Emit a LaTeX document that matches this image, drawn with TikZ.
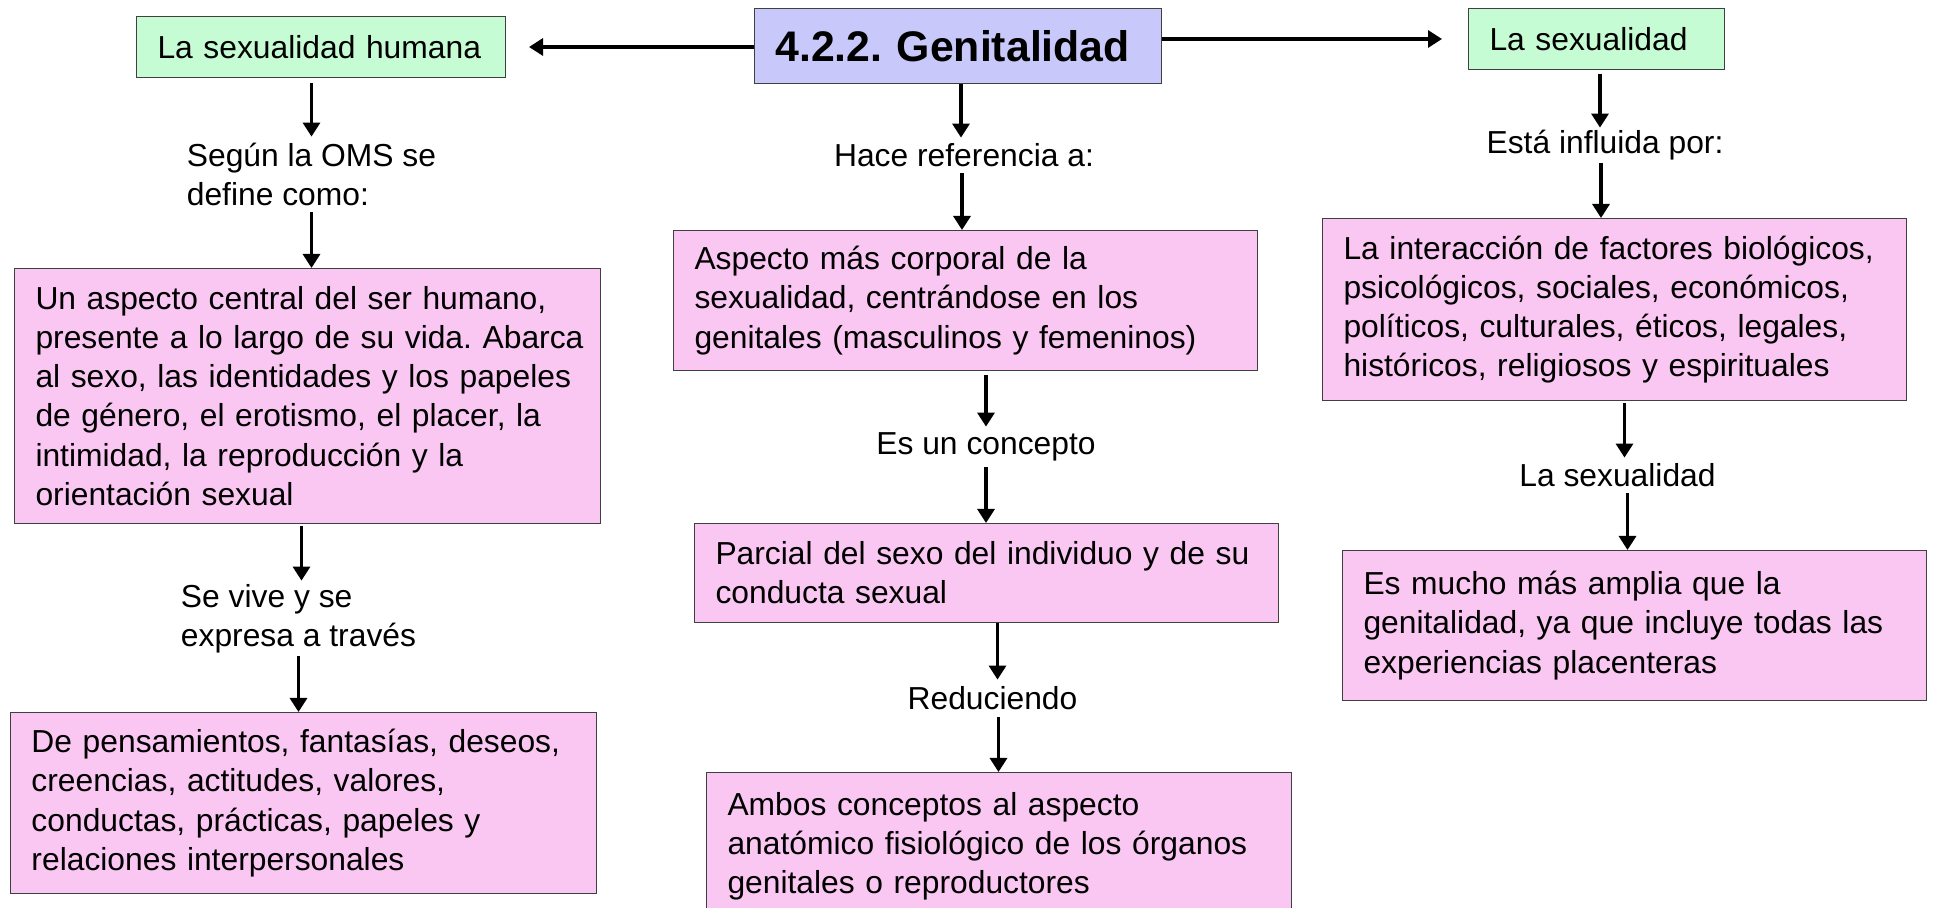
\documentclass[tikz,border=0pt]{standalone}
\usepackage{fontspec}
\setmainfont{Liberation Sans}
\usetikzlibrary{arrows.meta,calc}
\definecolor{mint}{RGB}{198,252,212}
\definecolor{pinkf}{RGB}{250,198,242}
\definecolor{lav}{RGB}{200,200,250}
\definecolor{edgec}{RGB}{64,64,64}
\frenchspacing
\begin{document}
\begin{tikzpicture}[x=0.5pt,y=-0.5pt,
  box/.style={draw=edgec, line width=0.5pt, anchor=north west, inner xsep=10.5pt, inner ysep=0pt,
    align=left, font=\fontsize{15.9pt}{19.6pt}\selectfont},
  greenbox/.style={box, fill=mint},
  pinkbox/.style={box, fill=pinkf},
  titlebox/.style={box, fill=lav, font=\fontsize{21.4pt}{25pt}\selectfont\bfseries},
  lbl/.style={inner sep=0pt, align=left, font=\fontsize{15.9pt}{19.6pt}\selectfont},
  arr/.style={line width=1.6pt, -{Triangle[length=7pt,width=8.5pt]}}
]
\fill[white] (0,0) rectangle (1935,908);
\useasboundingbox (0,0) rectangle (1935,908);

% top row
\node[greenbox, minimum width=184.5pt, minimum height=30.5pt, text width=163.5pt] (A) at (136,16) {\mbox{La sexualidad humana}};
\node[titlebox, minimum width=203.5pt, minimum height=37.5pt, text width=182.5pt] (C) at (754,8) {\mbox{4.2.2. Genitalidad}};
\node[greenbox, minimum width=128pt, minimum height=30.5pt, text width=107pt] (R) at (1468,8) {\mbox{La sexualidad}};

% left column
\node[lbl, minimum height=37.5pt] (L1) at (311.5,174.5) {Según la OMS se\\define como:};
\node[pinkbox, minimum width=293pt, minimum height=127.5pt, text width=272pt] (b1) at (14,268)
  {\mbox{Un aspecto central del ser humano,}\\\mbox{presente a lo largo de su vida. Abarca}\\\mbox{al sexo, las identidades y los papeles}\\\mbox{de género, el erotismo, el placer, la}\\\mbox{intimidad, la reproducción y la}\\\mbox{orientación sexual}};
\node[lbl, minimum height=37.5pt] (L2) at (298.5,618.5) {Se vive y se\\expresa a través};
\node[pinkbox, minimum width=293pt, minimum height=90.5pt, text width=272pt] (b6) at (10,712)
  {\mbox{De pensamientos, fantasías, deseos,}\\\mbox{creencias, actitudes, valores,}\\\mbox{conductas, prácticas, papeles y}\\\mbox{relaciones interpersonales}};

% middle column
\node[lbl, minimum height=17.5pt] (H) at (964,155.5) {Hace referencia a:};
\node[pinkbox, minimum width=292pt, minimum height=70pt, text width=271pt] (b2) at (673,230)
  {\mbox{Aspecto más corporal de la}\\\mbox{sexualidad, centrándose en los}\\\mbox{genitales (masculinos y femeninos)}};
\node[lbl, minimum height=20pt] (E) at (986,447) {Es un concepto};
\node[pinkbox, minimum width=292pt, minimum height=49.5pt, text width=271pt] (b3) at (694,523)
  {\mbox{Parcial del sexo del individuo y de su}\\\mbox{conducta sexual}};
\node[lbl, minimum height=18.5pt] (Red) at (992.5,698.5) {Reduciendo};
\node[pinkbox, minimum width=292.5pt, minimum height=74pt, text width=271.5pt] (b4) at (706,772)
  {\mbox{Ambos conceptos al aspecto}\\\mbox{anatómico fisiológico de los órganos}\\\mbox{genitales o reproductores}};

% right column
\node[lbl, minimum height=17.5pt] (F) at (1605,145.5) {Está influida por:};
\node[pinkbox, minimum width=292pt, minimum height=91pt, text width=271pt] (b5) at (1322,218)
  {\mbox{La interacción de factores biológicos,}\\\mbox{psicológicos, sociales, económicos,}\\\mbox{políticos, culturales, éticos, legales,}\\\mbox{históricos, religiosos y espirituales}};
\node[lbl, minimum height=17.5pt] (S) at (1617.5,475.5) {La sexualidad};
\node[pinkbox, minimum width=292pt, minimum height=75pt, text width=271pt] (b7) at (1342,550)
  {\mbox{Es mucho más amplia que la}\\\mbox{genitalidad, ya que incluye todas las}\\\mbox{experiencias placenteras}};

% horizontal connectors
\draw[arr, shorten >=11.5pt] (C.west |- A.east) -- (A.east);
\draw[arr, shorten >=13pt] (C.east |- R.west) -- (R.west);

% left column connectors
\draw[arr, shorten <=2.5pt] (A.south -| L1.north) -- (L1.north);
\draw[arr] (L1.south) -- (L1.south |- b1.north);
\draw[arr, shorten <=1pt] ($(b1.south -| L2.north)+(3,0)$) -- ($(L2.north)+(3,0)$);
\draw[arr] (L2.south) -- (L2.south |- b6.north);

% middle column connectors
\draw[arr] ($(C.south -| H.north)+(-3,0)$) -- ($(H.north)+(-3,0)$);
\draw[arr] ($(H.south)+(-2,0)$) -- ($(H.south |- b2.north)+(-2,0)$);
\draw[arr, shorten <=2pt] (b2.south -| E.north) -- (E.north);
\draw[arr] (E.south) -- (E.south |- b3.north);
\draw[arr] ($(b3.south -| Red.north)+(5,0)$) -- ($(Red.north)+(5,0)$);
\draw[arr] ($(Red.south)+(6,0)$) -- ($(Red.south |- b4.north)+(6,0)$);

% right column connectors
\draw[arr, shorten <=2pt] ($(R.south -| F.north)+(-5,0)$) -- ($(F.north)+(-5,0)$);
\draw[arr] ($(F.south)+(-4,0)$) -- ($(F.south |- b5.north)+(-4,0)$);
\draw[arr, shorten <=1pt] ($(b5.south -| S.north)+(7,0)$) -- ($(S.north)+(7,0)$);
\draw[arr] ($(S.south)+(10,0)$) -- ($(S.south |- b7.north)+(10,0)$);
\end{tikzpicture}
\end{document}
